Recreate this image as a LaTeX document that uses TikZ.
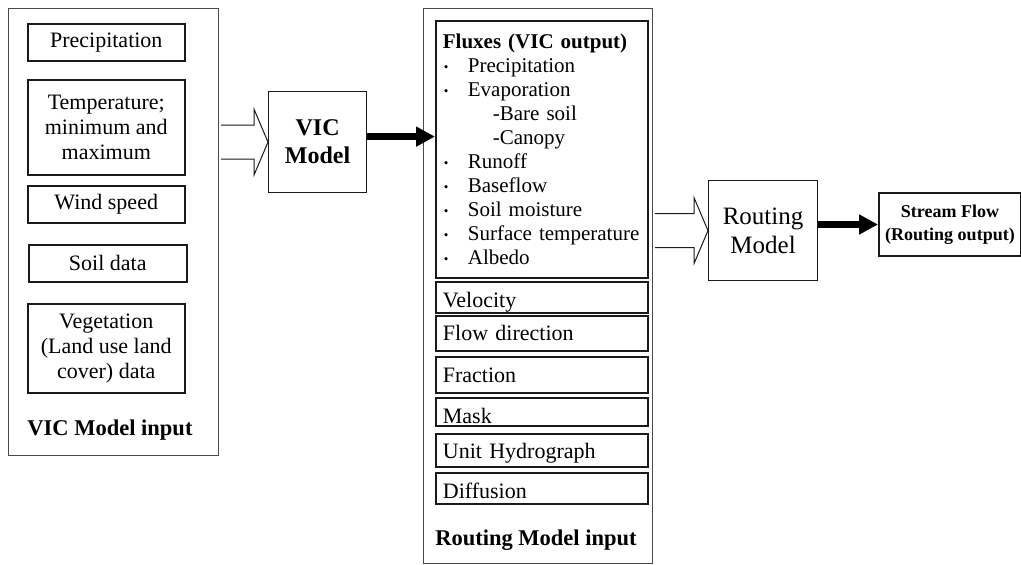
\documentclass[tikz,border=0pt]{standalone}
\usepackage{fontspec}
\setmainfont{Liberation Serif}
\usetikzlibrary{arrows.meta, calc}
\definecolor{frame}{HTML}{4A4A4A}
\definecolor{ink}{HTML}{1A1A1A}

% one line of the flux list, with its bullet
\newcommand{\fitem}[1]{\makebox[25pt][l]{\hspace{1pt}\raisebox{1.5pt}{\fontsize{13}{13}\selectfont\textbullet}}#1}
\newcommand{\fsub}[1]{\hspace*{50pt}#1}
% open block arrow from the east side of #1 to the west side of #2
\newcommand{\openarrow}[2]{%
  \draw[hollow] let \p1 = (#1.east), \p2 = (#2.west) in
    (\x1+2pt, \y2+17pt) -- (\x2-14pt, \y2+17pt) -- (\x2-14pt, \y2+33pt)
    -- (\x2, \y2) -- (\x2-14pt, \y2-33pt) -- (\x2-14pt, \y2-17pt)
    -- (\x1+2pt, \y2-17pt);}

\begin{document}
\begin{tikzpicture}[x=1pt, y=-1pt,
    panel/.style={draw=frame, line width=1.2pt, anchor=north west, inner sep=0pt},
    inbox/.style={draw=ink, line width=1.5pt, anchor=north west, minimum width=157pt,
                  inner sep=0pt, align=center, font=\fontsize{22}{25}\selectfont},
    fluxbox/.style={draw=ink, line width=1.8pt, anchor=north west, minimum width=212pt,
                    minimum height=257pt, text width=198pt, inner xsep=7pt, align=left,
                    font=\fontsize{21}{24}\selectfont},
    listbox/.style={draw=ink, line width=1.8pt, anchor=north west, minimum width=212pt,
                    text width=198pt, inner xsep=7pt, inner ysep=0pt,
                    align=left, font=\fontsize{22}{24}\selectfont},
    modelbox/.style={draw=ink, line width=1.2pt, anchor=north west, inner sep=0pt, align=center},
    paneltitle/.style={font=\bfseries\fontsize{22.5}{25}\selectfont},
    hollow/.style={draw=ink, line width=1pt, fill=white},
    flowarrow/.style={line width=6.5pt, -{Triangle[length=19pt, width=19pt]}}]
  \useasboundingbox (0,0) rectangle (1021,565);

  % forcing data going into VIC
  \node[panel, minimum width=210pt, minimum height=447pt] (inputs) at (8,8) {};
  \node[inbox, minimum height=37pt] (prec) at (27,23) {Precipitation};
  \node[inbox, minimum height=95pt] (temp) at (27,79) {Temperature;\\ minimum and\\ maximum};
  \node[inbox, minimum height=37pt] (wind) at (27,185) {Wind speed};
  \node[inbox, minimum height=37pt, minimum width=158pt] (soil) at (28,244) {Soil data};
  \node[inbox, minimum height=89pt] (veg) at (27,303) {Vegetation\\ (Land use land\\ cover) data};
  \node[paneltitle] (inlabel) at (110,430) {VIC Model input};

  % VIC model
  \node[modelbox, minimum width=98pt, minimum height=101pt,
        font=\bfseries\fontsize{24}{28}\selectfont] (vic) at (268,91) {VIC\\ Model};

  % VIC output and the other routing inputs
  \node[panel, minimum width=229pt, minimum height=555pt] (routein) at (423,8) {};
  \node[fluxbox] (flux) at (435,20) {\textbf{Fluxes (VIC output)}\\
    \fitem{Precipitation}\\
    \fitem{Evaporation}\\
    \fsub{-Bare soil}\\
    \fsub{-Canopy}\\
    \fitem{Runoff}\\
    \fitem{Baseflow}\\
    \fitem{Soil moisture}\\
    \fitem{Surface temperature}\\
    \fitem{Albedo}};
  \node[listbox, text height=26pt, text depth=5pt] (vel) at (435,281) {Velocity};
  \node[listbox, text height=25pt, text depth=10pt] (fdir) at (435,315) {Flow direction};
  \node[listbox, text height=26pt, text depth=10pt] (frac) at (435,356) {Fraction};
  \node[listbox, text height=26pt, text depth=2pt] (mask) at (435,397) {Mask};
  \node[listbox, text height=25pt, text depth=8pt] (uh) at (435,433) {Unit Hydrograph};
  \node[listbox, text height=26pt, text depth=5pt] (diff) at (435,472) {Diffusion};
  \node[paneltitle] (rilabel) at (536,540) {Routing Model input};

  % routing model and its output
  \node[modelbox, minimum width=109pt, minimum height=100pt,
        font=\fontsize{25}{29}\selectfont] (routing) at (708,180) {Routing\\ Model};
  \node[modelbox, line width=2pt, minimum width=142pt, minimum height=63pt,
        font=\bfseries\fontsize{18}{23}\selectfont] (stream) at (878,192) {Stream Flow\\ (Routing output)};

  % arrows
  \openarrow{inputs}{vic}
  \openarrow{routein}{routing}
  \draw[flowarrow] ([yshift=5.5pt]vic.east) -- ([yshift=5.5pt]vic.east -| flux.west);
  \draw[flowarrow] (routing.east |- stream.west) -- (stream.west);
\end{tikzpicture}
\end{document}
